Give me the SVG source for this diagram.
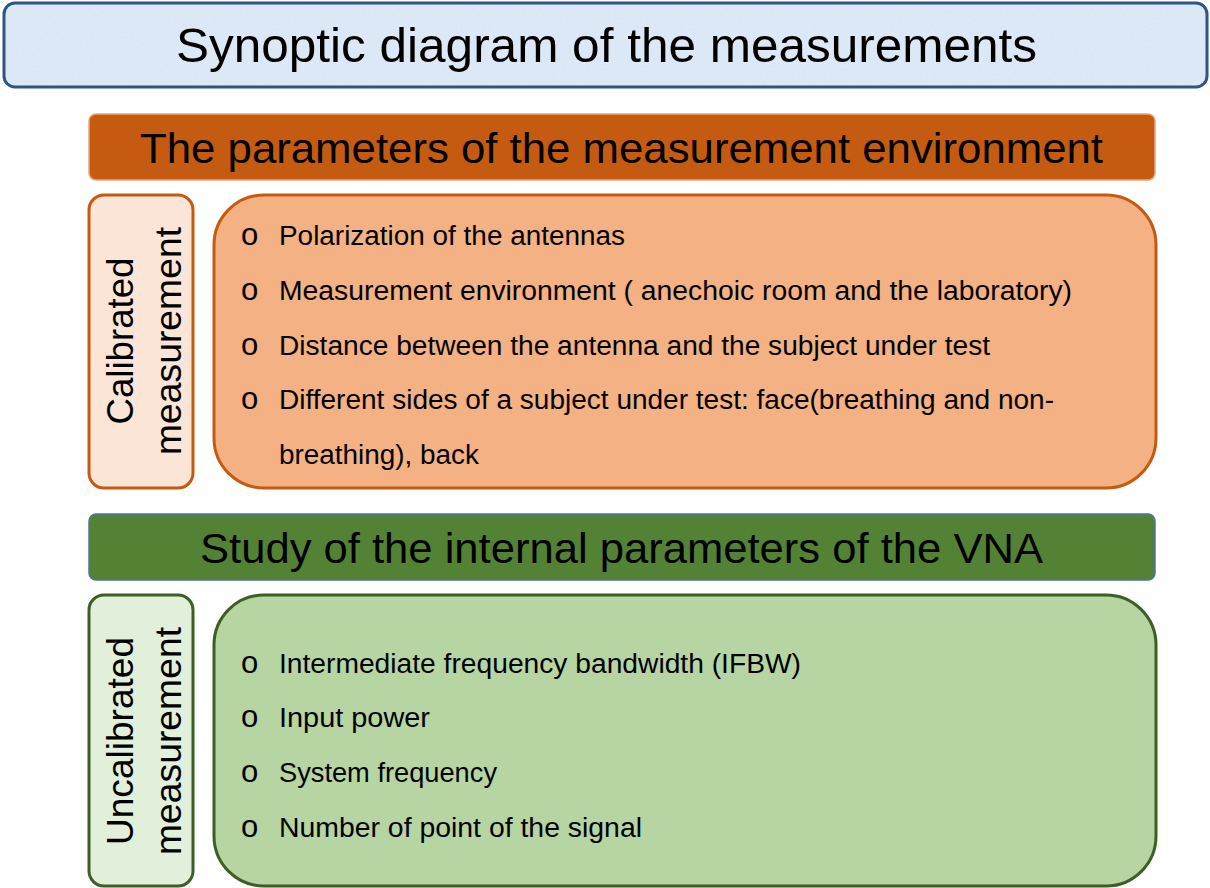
<svg xmlns="http://www.w3.org/2000/svg" width="1210" height="888" viewBox="0 0 1210 888">
<defs>
<filter id="tex" x="0" y="0" width="100%" height="100%">
<feTurbulence type="fractalNoise" baseFrequency="0.35" numOctaves="2" seed="3" result="n"/>
<feColorMatrix in="n" type="matrix" values="0 0 0 0 0.78  0 0 0 0 0.85  0 0 0 0 0.95  0 0 0 0.9 -0.25" result="c"/>
<feComposite in="c" in2="SourceGraphic" operator="in"/>
</filter>
</defs>
<style>
text{font-family:"Liberation Sans",Arial,sans-serif;fill:#000}
.title{font-size:48px}
.head{font-size:43px}
.item{font-size:27px}
.bul{font-size:31px}
.side{font-size:37px}
</style>
<rect width="1210" height="888" fill="#fff"/>
<g id="title">
<rect x="4" y="3" width="1203" height="84" rx="11" fill="#dbe7f5" stroke="#2e5583" stroke-width="3"/>
<rect x="6" y="5" width="1199" height="80" rx="9" fill="#dbe7f5" filter="url(#tex)" opacity="0.8"/>
<text class="title" x="606.5" y="62" text-anchor="middle" textLength="861" lengthAdjust="spacingAndGlyphs">Synoptic diagram of the measurements</text>
</g>
<g id="env-header">
<rect x="89" y="114" width="1066" height="66" rx="7" fill="#c55a11" stroke="#e9a779" stroke-width="1.5"/>
<text class="head" x="621.5" y="163" text-anchor="middle" textLength="963" lengthAdjust="spacingAndGlyphs">The parameters of the measurement environment</text>
</g>
<g id="calibrated-label">
<rect x="89" y="195" width="104" height="293" rx="15" fill="#fbe5d6" stroke="#c55a11" stroke-width="3"/>
<text class="side" transform="translate(133,341) rotate(-90)" text-anchor="middle" textLength="167" lengthAdjust="spacingAndGlyphs">Calibrated</text>
<text class="side" transform="translate(181,341) rotate(-90)" text-anchor="middle" textLength="228" lengthAdjust="spacingAndGlyphs">measurement</text>
</g>
<g id="calibrated-list">
<rect x="214" y="195" width="942" height="293" rx="50" fill="#f4b183" stroke="#c55a11" stroke-width="3"/>
<text class="bul" x="241" y="245">o</text>
<text class="item" x="279" y="245" textLength="346" lengthAdjust="spacingAndGlyphs">Polarization of the antennas</text>
<text class="bul" x="241" y="300">o</text>
<text class="item" x="279" y="300" textLength="793" lengthAdjust="spacingAndGlyphs">Measurement environment ( anechoic room and the laboratory)</text>
<text class="bul" x="241" y="355">o</text>
<text class="item" x="279" y="355" textLength="711" lengthAdjust="spacingAndGlyphs">Distance between the antenna and the subject under test</text>
<text class="bul" x="241" y="409">o</text>
<text class="item" x="279" y="409" textLength="775" lengthAdjust="spacingAndGlyphs">Different sides of a subject under test: face(breathing and non-</text>
<text class="item" x="279" y="464" textLength="200" lengthAdjust="spacingAndGlyphs">breathing), back</text>
</g>
<g id="vna-header">
<rect x="89" y="514" width="1066" height="66" rx="7" fill="#548235" stroke="#4a76a8" stroke-width="1.5"/>
<text class="head" x="621.5" y="563" text-anchor="middle" textLength="843" lengthAdjust="spacingAndGlyphs">Study of the internal parameters of the VNA</text>
</g>
<g id="uncalibrated-label">
<rect x="89" y="595" width="104" height="291" rx="15" fill="#e2efda" stroke="#3d5e25" stroke-width="3"/>
<text class="side" transform="translate(133,741) rotate(-90)" text-anchor="middle" textLength="208" lengthAdjust="spacingAndGlyphs">Uncalibrated</text>
<text class="side" transform="translate(181,741) rotate(-90)" text-anchor="middle" textLength="228" lengthAdjust="spacingAndGlyphs">measurement</text>
</g>
<g id="uncalibrated-list">
<rect x="214" y="595" width="942" height="291" rx="50" fill="#b7d5a3" stroke="#3d5e25" stroke-width="3"/>
<text class="bul" x="241" y="673">o</text>
<text class="item" x="279" y="673" textLength="522" lengthAdjust="spacingAndGlyphs">Intermediate frequency bandwidth (IFBW)</text>
<text class="bul" x="241" y="727">o</text>
<text class="item" x="279" y="727" textLength="151" lengthAdjust="spacingAndGlyphs">Input power</text>
<text class="bul" x="241" y="782">o</text>
<text class="item" x="279" y="782" textLength="218" lengthAdjust="spacingAndGlyphs">System frequency</text>
<text class="bul" x="241" y="837">o</text>
<text class="item" x="279" y="837" textLength="363" lengthAdjust="spacingAndGlyphs">Number of point of the signal</text>
</g>
<g id="connectors"></g>
</svg>
